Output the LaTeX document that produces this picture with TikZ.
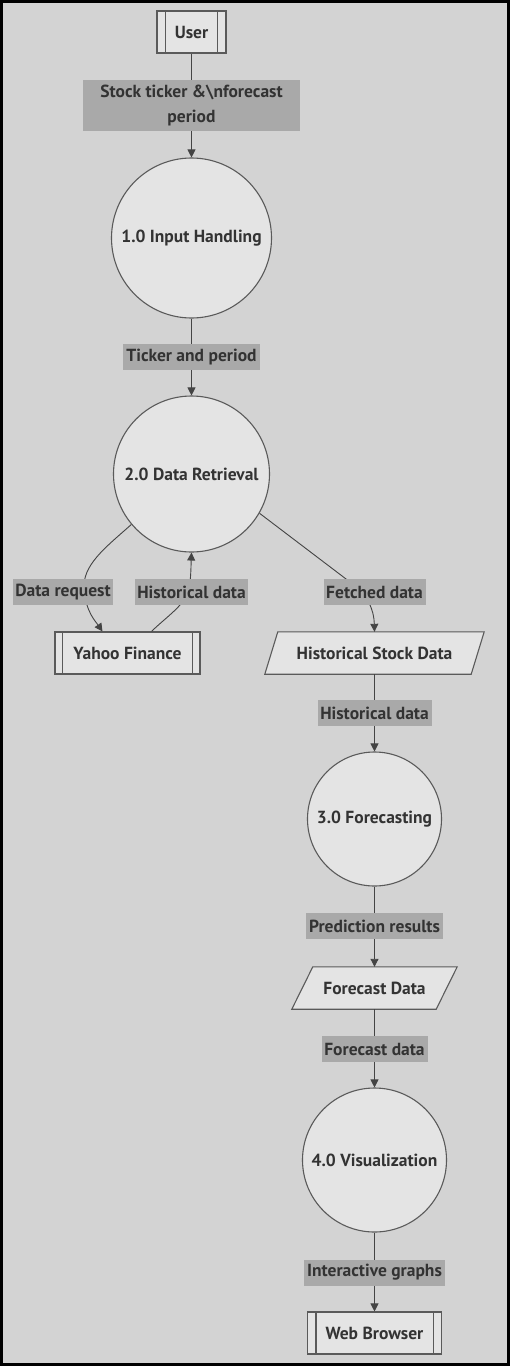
\documentclass[tikz,border=0pt]{standalone}
\usepackage{fontspec}
\setmainfont{PT Sans}
\usetikzlibrary{arrows.meta}
\definecolor{bgc}{HTML}{D3D3D3}
\definecolor{nodefill}{HTML}{E4E4E4}
\definecolor{lblfill}{HTML}{A9A9A9}
\definecolor{txt}{HTML}{333333}
\definecolor{strk}{HTML}{5A5A5A}
\definecolor{edgec}{HTML}{444444}
\begin{document}
\begin{tikzpicture}[x=1pt,y=-1pt,
  every node/.style={font=\bfseries\fontsize{17.5}{25}\selectfont, text=txt},
  proc/.style={circle, draw=strk, fill=nodefill, line width=1.1pt, inner sep=0pt},
  ext/.style={draw=strk, fill=nodefill, line width=1.1pt, inner sep=0pt, minimum height=42},
  plain/.style={inner sep=0pt, minimum height=42},
  lbl/.style={fill=lblfill, inner sep=0pt, minimum height=26},
  flow/.style={draw=edgec, line width=0.9pt},
  arr/.style={flow, -{Triangle[length=8pt,width=8pt]}}
]
\useasboundingbox (0,0) rectangle (510,1366);
\fill[bgc] (0,0) rectangle (510,1366);
\draw[black, line width=3pt] (1.5,1.5) rectangle (508.5,1364.5);

% nodes
\node[ext, minimum width=69] (user) at (191.5,32) {User};
\draw[strk, line width=1.1pt] ([xshift=9]user.north west) -- ([xshift=9]user.south west)
  ([xshift=-9]user.north east) -- ([xshift=-9]user.south east);

\node[proc, minimum size=160] (p1) at (191.5,238) {1.0 Input Handling};
\node[proc, minimum size=156] (p2) at (191.5,474) {2.0 Data Retrieval};

\node[ext, minimum width=145] (yahoo) at (127.5,653) {Yahoo Finance};
\draw[strk, line width=1.1pt] ([xshift=8]yahoo.north west) -- ([xshift=8]yahoo.south west)
  ([xshift=-8]yahoo.north east) -- ([xshift=-8]yahoo.south east);

\node[plain, minimum width=219] (hsd) at (374.5,653) {};
\draw[strk, fill=nodefill, line width=1.1pt] ([xshift=13]hsd.north west) -- (hsd.north east)
  -- ([xshift=-13]hsd.south east) -- (hsd.south west) -- cycle;
\node at (hsd.center) {Historical Stock Data};

\node[proc, minimum size=134] (p3) at (374.5,819) {3.0 Forecasting};

\node[plain, minimum width=165] (fd) at (374.5,988) {};
\draw[strk, fill=nodefill, line width=1.1pt] ([xshift=21]fd.north west) -- (fd.north east)
  -- ([xshift=-21]fd.south east) -- (fd.south west) -- cycle;
\node at (fd.center) {Forecast Data};

\node[proc, minimum size=144] (p4) at (374.5,1160) {4.0 Visualization};

\node[ext, minimum width=134] (web) at (374.5,1333) {Web Browser};
\draw[strk, line width=1.1pt] ([xshift=9]web.north west) -- ([xshift=9]web.south west)
  ([xshift=-9]web.north east) -- ([xshift=-9]web.south east);

% edges
\draw[arr] (user.south) -- (p1.north);
\draw[arr] (p1.south) -- (p2.north);
\draw[arr] (p2.-140) .. controls (105,548) and (82,565) .. (84,590)
  .. controls (86,612) and (96,622) .. ([xshift=-25]yahoo.north);
\draw[arr] ([xshift=24]yahoo.north) .. controls (165,618) and (185,605) .. (189,590)
  .. controls (191,578) and (191,565) .. (p2.south);
\draw[arr] (p2.-30) -- (350,582) .. controls (368,595) and (374,610) .. (hsd.north);
\draw[arr] (hsd.south) -- (p3.north);
\draw[arr] (p3.south) -- (fd.north);
\draw[arr] (fd.south) -- (p4.north);
\draw[arr] (p4.south) -- (web.north);

% labels
\node[lbl, minimum width=217, minimum height=51, align=center] (l1) at (191.5,105.5)
  {Stock ticker \&\textbackslash nforecast\\period};
\node[lbl, minimum width=137] (l2) at (191.5,357) {Ticker and period};
\node[lbl, minimum width=100] (l3) at (63,592) {Data request};
\node[lbl, minimum width=113] (l4) at (191.5,592) {Historical data};
\node[lbl, minimum width=102] (l5) at (374.5,592) {Fetched data};
\node[lbl, minimum width=114] (l6) at (374.5,713) {Historical data};
\node[lbl, minimum width=137] (l7) at (374.5,926) {Prediction results};
\node[lbl, minimum width=106] (l8) at (374.5,1049) {Forecast data};
\node[lbl, minimum width=141] (l9) at (374.5,1272.5) {Interactive graphs};
\end{tikzpicture}
\end{document}
